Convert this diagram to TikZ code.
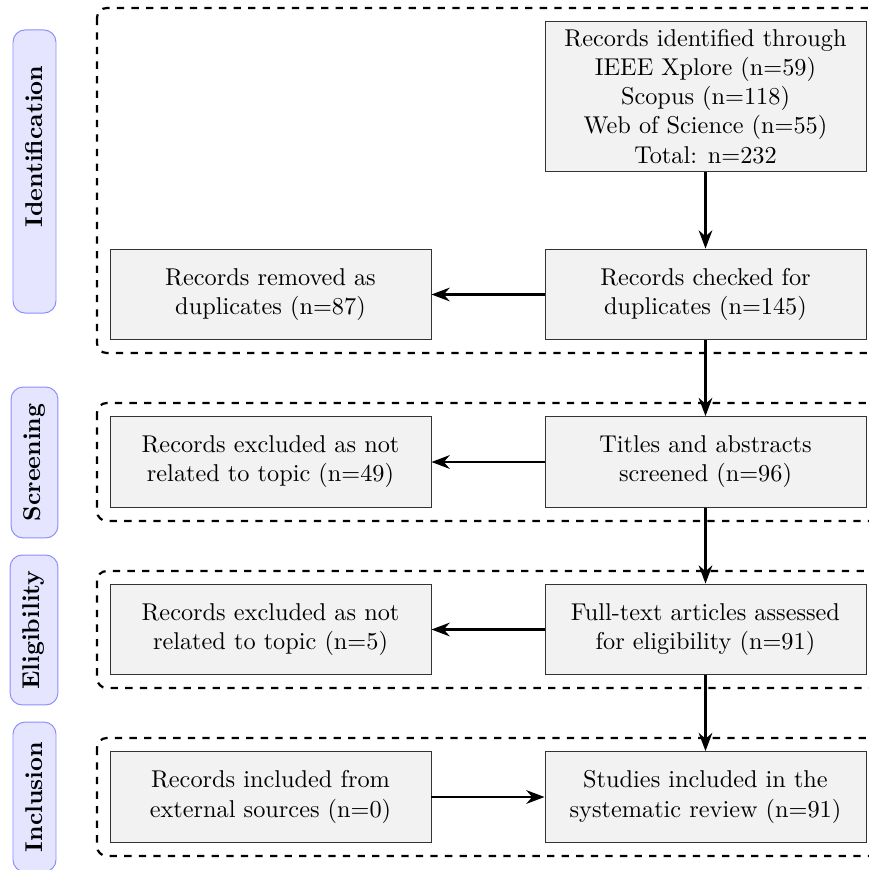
\documentclass[tikz,border=0pt]{standalone}
\usetikzlibrary{arrows.meta}
\begin{document}
\begin{tikzpicture}[x=0.4115pt,y=-0.4115pt,
  flowbox/.style={draw=black!80,fill=gray!10,align=center,inner sep=2pt,
    minimum width=132.1pt,minimum height=37.4pt,font=\normalsize},
  phasebox/.style={draw,line width=0.9pt,dashed,rounded corners=4pt},
  phaselabel/.style={draw=blue!45,fill=blue!10,rounded corners=5pt,rotate=90,
    font=\bfseries,inner sep=0pt},
  phasetext/.style={rotate=90,font=\bfseries,inner sep=0pt},
  flowarrow/.style={-{Stealth},line width=1pt}]
\useasboundingbox (0,0) rectangle (869,870);
\clip (0,0) rectangle (869,870);
% phase frames
\draw[phasebox] (97,8) rectangle (885,353);
\draw[phasebox] (97,403) rectangle (885,521);
\draw[phasebox] (97,571) rectangle (885,688);
\draw[phasebox] (97,738) rectangle (885,856);
% phase labels
\node[phaselabel,minimum width=116.5pt,minimum height=17.7pt] (pid) at (34.5,171.5) {};
\node[phasetext] (pidtext) at (34.5,146.5) {Identification};
\node[phaselabel,minimum width=62.1pt,minimum height=19.3pt] (psc) at (34.5,462.5) {Screening};
\node[phaselabel,minimum width=61.7pt,minimum height=19.7pt] (pel) at (34,630) {Eligibility};
\node[phaselabel,minimum width=61.7pt,minimum height=17.7pt] (pin) at (34.5,797) {Inclusion};
% boxes
\node[flowbox,minimum height=62.1pt] (ident) at (705.5,96.5) {Records identified through\\IEEE Xplore (n=59)\\Scopus (n=118)\\Web of Science (n=55)\\Total: n=232};
\node[flowbox] (checked) at (705.5,294.5) {Records checked for\\duplicates (n=145)};
\node[flowbox] (removed) at (270.5,294.5) {Records removed as\\duplicates (n=87)};
\node[flowbox] (titles) at (705.5,462) {Titles and abstracts\\screened (n=96)};
\node[flowbox] (excl1) at (270.5,462) {Records excluded as not\\related to topic (n=49)};
\node[flowbox] (full) at (705.5,629.5) {Full-text articles assessed\\for eligibility (n=91)};
\node[flowbox] (excl2) at (270.5,629.5) {Records excluded as not\\related to topic (n=5)};
\node[flowbox] (studies) at (705.5,797) {Studies included in the\\systematic review (n=91)};
\node[flowbox] (extern) at (270.5,797) {Records included from\\external sources (n=0)};
% arrows
\draw[flowarrow] (ident) -- (checked);
\draw[flowarrow] (checked) -- (removed);
\draw[flowarrow] (checked) -- (titles);
\draw[flowarrow] (titles) -- (excl1);
\draw[flowarrow] (titles) -- (full);
\draw[flowarrow] (full) -- (excl2);
\draw[flowarrow] (full) -- (studies);
\draw[flowarrow] (extern) -- (studies);
\end{tikzpicture}
\end{document}
